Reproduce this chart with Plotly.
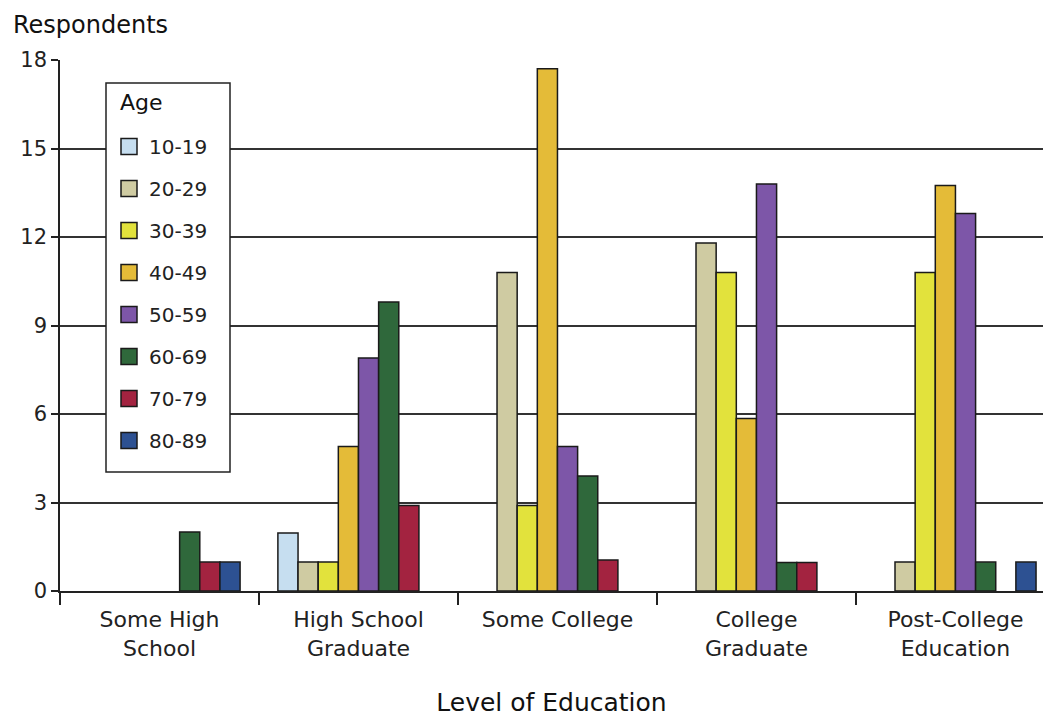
import plotly.graph_objects as go

categories = ["Some High<br>School", "High School<br>Graduate", "Some College", "College<br>Graduate", "Post-College<br>Education"]
age_groups = ["10-19", "20-29", "30-39", "40-49", "50-59", "60-69", "70-79", "80-89"]
v_10_19 = [None, 1.97, None, None, None]
v_20_29 = [None, 0.98, 10.8, 11.8, 0.98]
v_30_39 = [None, 0.98, 2.9, 10.8, 10.8]
v_40_49 = [None, 4.9, 17.7, 5.85, 13.75]
v_50_59 = [None, 7.9, 4.9, 13.8, 12.8]
v_60_69 = [2.0, 9.8, 3.9, 0.97, 0.98]
v_70_79 = [0.98, 2.9, 1.05, 0.97, None]
v_80_89 = [0.98, None, None, None, 0.98]
series = [v_10_19, v_20_29, v_30_39, v_40_49, v_50_59, v_60_69, v_70_79, v_80_89]
colors = ["#c6def0", "#cfcba2", "#e2e23c", "#e4bb38", "#7d56a8", "#2f683b", "#a32340", "#2d5192"]
y_ticks = [0, 3, 6, 9, 12, 15, 18]

FONT = "'DejaVu Sans', sans-serif"
OUTLINE = "#1a1a1a"

# plot-area geometry used for paper-coordinate placement of the legend frame
PW, PH = 983.0, 531.0
def px(x):
    return (x - 60) / PW
def py(y):
    return (591 - y) / PH

fig = go.Figure()
for name, vals, col in zip(age_groups, series, colors):
    fig.add_trace(go.Bar(
        x=categories, y=vals, name=name, showlegend=False,
        marker=dict(color=col, line=dict(color=OUTLINE, width=1.5)),
    ))
# legend entries with larger square swatches
for name, col in zip(age_groups, colors):
    fig.add_trace(go.Scatter(
        x=[None], y=[None], name=name, mode="markers", legendgroup=name,
        marker=dict(symbol="square", size=18, color=col, line=dict(color=OUTLINE, width=1.5)),
    ))

fig.update_layout(
    width=1043, height=717,
    margin=dict(l=60, r=0, t=60, b=126),
    paper_bgcolor="white", plot_bgcolor="white",
    barmode="group", bargap=0.19, bargroupgap=0,
    font=dict(family=FONT, size=20, color="#222"),
    legend=dict(
        x=px(109), y=py(127), xanchor="left", yanchor="top",
        borderwidth=0, bgcolor="rgba(0,0,0,0)",
        font=dict(size=20, color="#222"), tracegroupgap=13,
        traceorder="grouped", itemsizing="trace",
    ),
    shapes=[dict(type="rect", xref="paper", yref="paper", x0=px(106), x1=px(230), y0=py(472), y1=py(83),
                 line=dict(color="#222", width=1.5), fillcolor="white", layer="above")],
    xaxis=dict(
        range=[-0.5, 4.44],
        showline=True, linecolor="#222", linewidth=1.5,
        ticks="outside", tickson="boundaries", ticklen=12, tickwidth=1.5, tickcolor="#222",
        tickfont=dict(size=22, color="#222"), ticklabelstandoff=8,
        title=dict(text="Level of Education", font=dict(size=25, color="#111"), standoff=38),
        showgrid=False,
    ),
    yaxis=dict(
        range=[0, 18], tickvals=y_ticks, ticks="outside", ticklen=7, tickwidth=1.5, tickcolor="#222",
        showline=True, linecolor="#222", linewidth=1.5,
        showgrid=True, gridcolor="#333", gridwidth=1.5, zeroline=False,
        tickfont=dict(size=21, color="#222"),
    ),
    annotations=[
        dict(text="Respondents", xref="paper", yref="paper", x=-0.05, y=1.0, yshift=51,
             xanchor="left", yanchor="top", showarrow=False, font=dict(size=24, color="#111")),
        dict(text="Age", xref="paper", yref="paper", x=px(118), y=py(103),
             xanchor="left", yanchor="middle", showarrow=False, font=dict(size=22, color="#111")),
    ],
)

fig.write_html("out.html")
